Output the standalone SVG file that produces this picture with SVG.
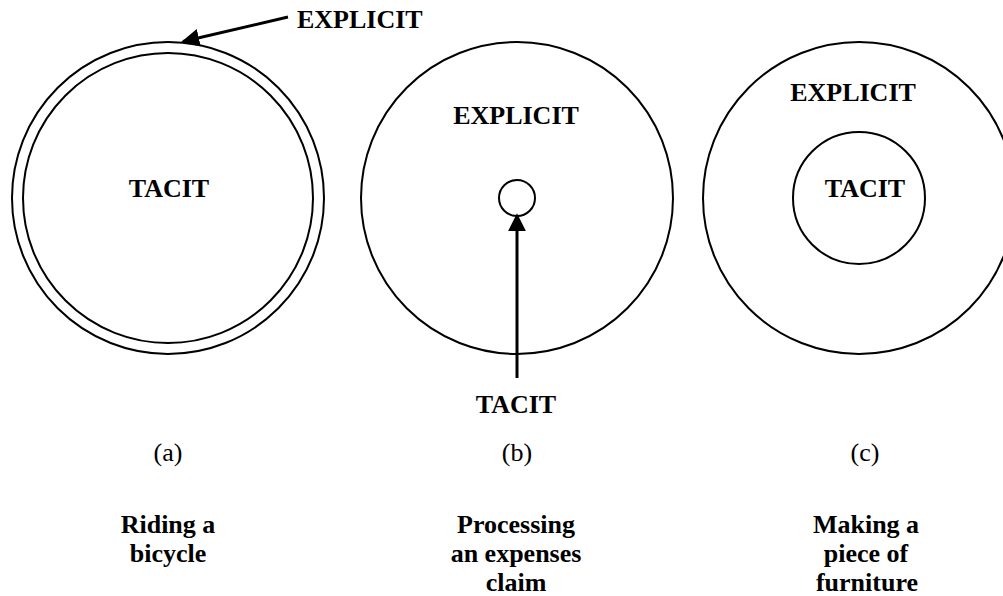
<svg xmlns="http://www.w3.org/2000/svg" width="1003" height="596" viewBox="0 0 1003 596">
  <defs>
    <style>
      .ring { fill: none; stroke: #000; stroke-width: 2; }
      .lbl { font-weight: bold; font-size: 26px; fill: #000; text-anchor: middle; }
      .tag { font-weight: normal; font-size: 26px; fill: #000; text-anchor: middle; }
      .ptr { stroke: #000; stroke-width: 3; fill: none; }
    </style>
    <marker id="head" viewBox="0 0 10 10" refX="9" refY="5" markerWidth="6" markerHeight="6" markerUnits="strokeWidth" orient="auto">
      <path d="M0,0 L10,5 L0,10 z" fill="#000"/>
    </marker>
  </defs>
  <rect width="1003" height="596" fill="#fff"/>

  <g font-family="'Liberation Serif', 'DejaVu Serif', serif">
  <!-- (a) riding a bicycle: thin explicit ring around tacit core -->
  <g id="node-a">
    <circle class="ring" cx="168" cy="198" r="156"/>
    <circle class="ring" cx="168" cy="198" r="145"/>
    <text class="lbl" x="169" y="197">TACIT</text>
    <text class="lbl" x="297" y="28" text-anchor="start" style="text-anchor:start">EXPLICIT</text>
    <text class="tag" x="168" y="461">(a)</text>
    <text class="lbl" x="168" y="533">Riding a</text>
    <text class="lbl" x="168" y="562">bicycle</text>
  </g>

  <!-- (b) processing an expenses claim: tiny tacit core -->
  <g id="node-b">
    <circle class="ring" cx="517" cy="198" r="156"/>
    <circle class="ring" cx="517" cy="198" r="18"/>
    <text class="lbl" x="516" y="124">EXPLICIT</text>
    <text class="lbl" x="516" y="413">TACIT</text>
    <text class="tag" x="517" y="461">(b)</text>
    <text class="lbl" x="516" y="533">Processing</text>
    <text class="lbl" x="516" y="562">an expenses</text>
    <text class="lbl" x="516" y="591">claim</text>
  </g>

  <!-- (c) making a piece of furniture: sizeable tacit core -->
  <g id="node-c">
    <circle class="ring" cx="859" cy="198" r="156"/>
    <circle class="ring" cx="859" cy="198" r="66"/>
    <text class="lbl" x="853" y="101">EXPLICIT</text>
    <text class="lbl" x="865" y="197">TACIT</text>
    <text class="tag" x="865" y="461">(c)</text>
    <text class="lbl" x="866" y="533">Making a</text>
    <text class="lbl" x="866" y="562">piece of</text>
    <text class="lbl" x="867" y="591">furniture</text>
  </g>
  </g>

  <!-- pointers from labels to the rings they name -->
  <g id="connectors">
    <line class="ptr" x1="288" y1="17" x2="183" y2="41.5" marker-end="url(#head)"/>
    <line class="ptr" x1="517" y1="378" x2="517" y2="215" marker-end="url(#head)"/>
  </g>
</svg>
